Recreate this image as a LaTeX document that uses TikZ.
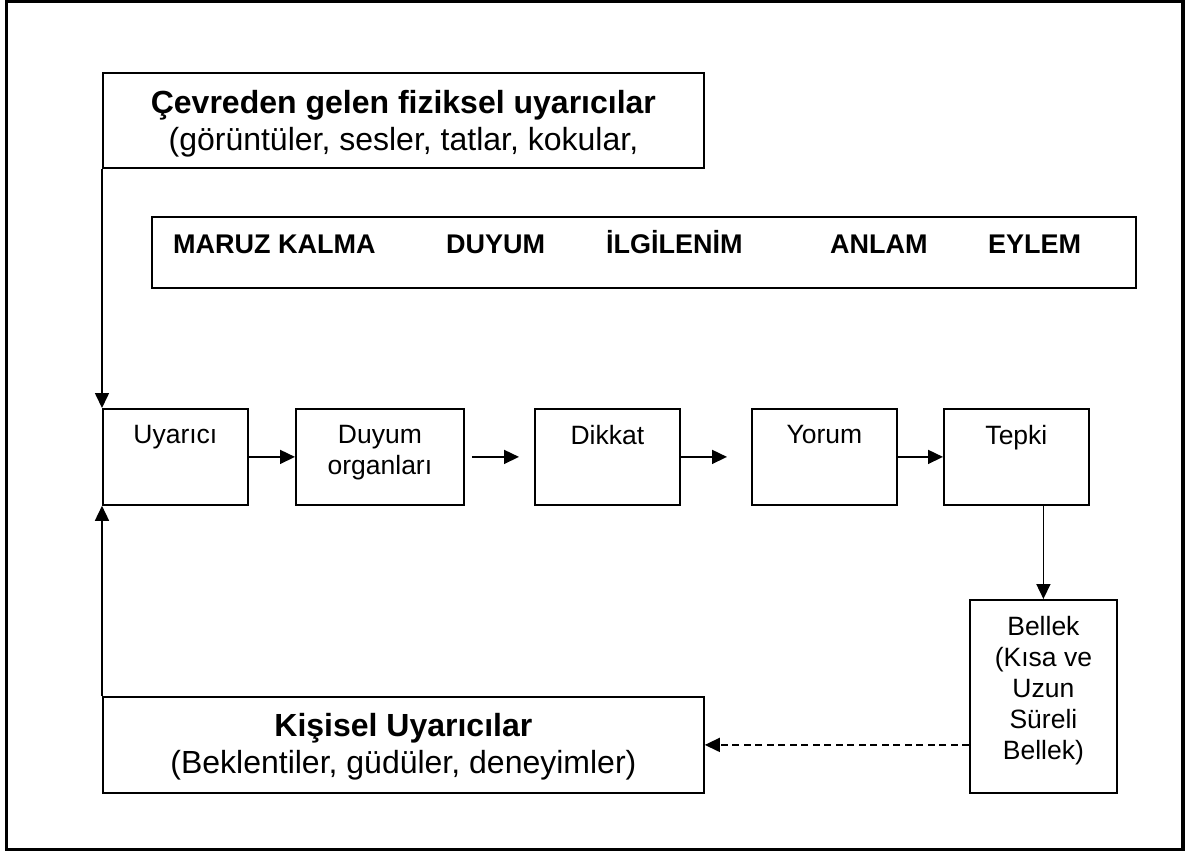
\documentclass[tikz,border=0pt]{standalone}
\usepackage{fontspec}
\setmainfont{Liberation Sans}
\usetikzlibrary{arrows.meta}
\begin{document}
\begin{tikzpicture}[x=1pt,y=-1pt,
  box/.style={draw, line width=1.8pt, inner sep=0pt, anchor=north west},
  boxtext/.style={anchor=north, inner sep=0pt, align=center,
    font=\fontsize{26.5}{31}\selectfont},
  bigtext/.style={anchor=north, inner sep=0pt, align=center,
    font=\fontsize{32}{37}\selectfont},
  stagetext/.style={anchor=base west, inner sep=0pt,
    font=\fontsize{27}{32}\selectfont\bfseries},
  flow/.style={line width=1.6pt, -{Triangle[length=15pt,width=14pt]}},
]
\useasboundingbox (0,0) rectangle (1191,852);
% outer frame
\draw[line width=3.5pt] (6.5,1.5) rectangle (1183,849.5);

% boxes
\node[box, minimum width=601pt, minimum height=95pt] (env) at (102,72) {};
\node[box, minimum width=984pt, minimum height=71pt] (stages) at (151,216) {};
\node[box, minimum width=145pt, minimum height=96pt] (uyar) at (102,408) {};
\node[box, minimum width=168pt, minimum height=96pt] (duyum) at (295,408) {};
\node[box, minimum width=145pt, minimum height=96pt] (dikkat) at (534,408) {};
\node[box, minimum width=145pt, minimum height=96pt] (yorum) at (751,408) {};
\node[box, minimum width=145pt, minimum height=96pt] (tepki) at (943,408) {};
\node[box, minimum width=147pt, minimum height=193pt] (bellek) at (969,599) {};
\node[box, minimum width=601pt, minimum height=96pt] (kisisel) at (102,696) {};

% box texts
\node[bigtext, yshift=-18pt] (env-t) at (env.north)
  {{\bfseries Çevreden gelen fiziksel uyarıcılar}\\(görüntüler, sesler, tatlar, kokular,};
\node[bigtext, yshift=-17pt] (kisisel-t) at (kisisel.north)
  {{\bfseries Kişisel Uyarıcılar}\\(Beklentiler, güdüler, deneyimler)};
\node[boxtext, yshift=-17pt] (uyar-t) at (uyar.north) {Uyarıcı};
\node[boxtext, yshift=-17pt] (duyum-t) at (duyum.north) {Duyum\\organları};
\node[boxtext, yshift=-17pt] (dikkat-t) at (dikkat.north) {Dikkat};
\node[boxtext, yshift=-17pt] (yorum-t) at (yorum.north) {Yorum};
\node[boxtext, yshift=-17pt] (tepki-t) at (tepki.north) {Tepki};
\node[boxtext, yshift=-17pt] (bellek-t) at (bellek.north)
  {Bellek\\(Kısa ve\\Uzun\\Süreli\\Bellek)};

% stage labels
\node[stagetext] (s1) at (173,253) {MARUZ KALMA};
\node[stagetext] (s2) at (446,253) {DUYUM};
\node[stagetext] (s3) at (606,253) {İLGİLENİM};
\node[stagetext] (s4) at (830,253) {ANLAM};
\node[stagetext] (s5) at (988,253) {EYLEM};

% connectors
\draw[flow] (env.south west) -- (uyar.north west);
\draw[flow] (kisisel.north west) -- (uyar.south west);
\draw[flow] (uyar.east) -- (duyum.west);
\draw[flow, shorten <=7pt, shorten >=15pt] (duyum.east) -- (dikkat.west);
\draw[flow, shorten >=24pt] (dikkat.east) -- (yorum.west);
\draw[flow] (yorum.east) -- (tepki.west);
\draw[flow] (tepki.south -| bellek.north) -- (bellek.north);
\draw[flow, dash pattern=on 7pt off 4.5pt] (bellek.west |- kisisel.east) -- (kisisel.east);
\end{tikzpicture}
\end{document}
